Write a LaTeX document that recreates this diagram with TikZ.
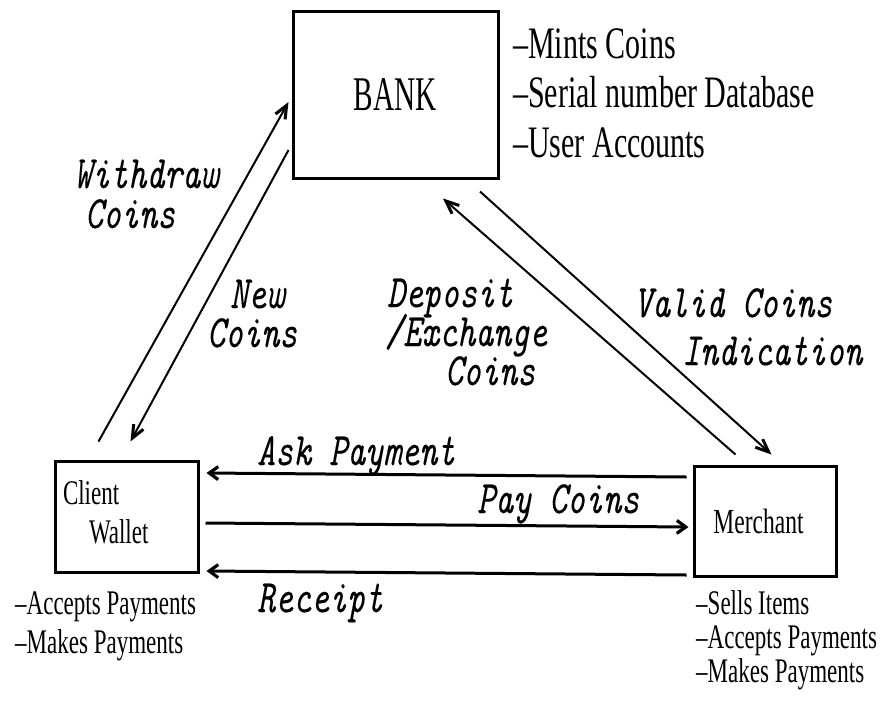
\documentclass[tikz,border=0pt]{standalone}
\usepackage{fontspec}
\usepackage{graphicx}
\setmainfont{Liberation Serif}
\newfontfamily\lblfont{Latin Modern Mono}[FakeBold=0.2]
\usetikzlibrary{arrows.meta}
\newcommand{\tallser}[1]{\scalebox{1}[1.5]{#1}}
\newcommand{\tallmono}[1]{\scalebox{1}[1.35]{#1}}
\begin{document}
\begin{tikzpicture}[x=1pt,y=-1pt,
  box/.style={draw, line width=3pt, inner sep=0pt},
  flow/.style={line width=3pt, -{Straight Barb[length=9pt,width=13pt,line width=3.2pt]}},
  diag/.style={line width=2pt, -{Straight Barb[length=13pt,width=11pt,line width=3pt]}},
  lbl/.style={inner sep=0pt, anchor=base west, font=\lblfont\itshape\fontsize{34.3}{#1}\selectfont},
  lbl/.default=34,
  note/.style={inner sep=0pt, anchor=base west},
]
\useasboundingbox (0,0) rectangle (882,704);

% boxes
\node[box, minimum width=205pt, minimum height=167pt, font=\fontsize{29.3}{30}\selectfont] (bank) at (395.5,94.5) {\scalebox{1}[1.65]{BANK}};
\node[box, minimum width=143pt, minimum height=111pt, text width=127pt, inner xsep=8pt, inner ysep=0pt, font=\fontsize{23}{26}\selectfont] (client) at (126.5,516.5) {\tallser{\begin{tabular}{@{}l@{}}Client\\\hspace*{26pt}Wallet\end{tabular}}};
\node[box, minimum width=142pt, minimum height=110pt, font=\fontsize{23.5}{26}\selectfont] (merchant) at (765,521) {\hspace*{-13pt}\tallser{Merchant}};

% notes
\node[note, font=\fontsize{30}{33.3}\selectfont] (banknotes) at (513,58) {\tallser{\begin{tabular}[t]{@{}l@{}}--Mints Coins\\--Serial number Database\\--User Accounts\end{tabular}}};
\node[note, font=\fontsize{23}{26}\selectfont] (clientnotes) at (15,614) {\tallser{\begin{tabular}[t]{@{}l@{}}--Accepts Payments\\--Makes Payments\end{tabular}}};
\node[note, font=\fontsize{23}{22.7}\selectfont] (merchantnotes) at (696,614) {\tallser{\begin{tabular}[t]{@{}l@{}}--Sells Items\\--Accepts Payments\\--Makes Payments\end{tabular}}};

% connectors
\draw[diag] ([shift={(45,-18)}]client.north west) -- ([shift={(-3,7.5)}]bank.west);
\draw[diag] ([shift={(-3,55.5)}]bank.west) -- ([shift={(77,-18)}]client.north west);
\draw[diag] ([shift={(43,-10)}]merchant.north west) -- ([shift={(47.5,19)}]bank.south);
\draw[diag] ([shift={(84.5,12)}]bank.south) -- ([shift={(79,-10)}]merchant.north west);
\draw[flow] ([shift={(-6,-44)}]merchant.west) -- ([shift={(7,-43.5)}]client.east);
\draw[flow] ([shift={(6,6.5)}]client.east) -- ([shift={(-4,6)}]merchant.west);
\draw[flow] ([shift={(-6,54)}]merchant.west) -- ([shift={(7,54.5)}]client.east);

% labels
\node[lbl=29.6] (withdraw) at (74,188) {\tallmono{\begin{tabular}[t]{@{}l@{}}\smash{Withdraw}\\\hspace*{11pt}\smash{Coins}\end{tabular}}};
\node[lbl=28.9] (newcoins) at (207,308) {\tallmono{\begin{tabular}[t]{@{}l@{}}\hspace*{23pt}\smash{New}\\\smash{Coins}\end{tabular}}};
\node[lbl=28.9] (deposit) at (385,307) {\tallmono{\begin{tabular}[t]{@{}l@{}}\hspace*{2pt}\smash{Deposit}\\\smash{/Exchange}\\\hspace*{60pt}\smash{Coins}\end{tabular}}};
\node[lbl=35.6] (valid) at (634,317) {\tallmono{\begin{tabular}[t]{@{}l@{}}\smash{Valid Coins}\\\hspace*{48pt}\smash{Indication}\end{tabular}}};
\node[lbl] (askpay) at (257,465) {\tallmono{Ask Payment}};
\node[lbl] (paycoins) at (477,513) {\tallmono{Pay Coins}};
\node[lbl] (receipt) at (257,612) {\tallmono{Receipt}};
\end{tikzpicture}
\end{document}
